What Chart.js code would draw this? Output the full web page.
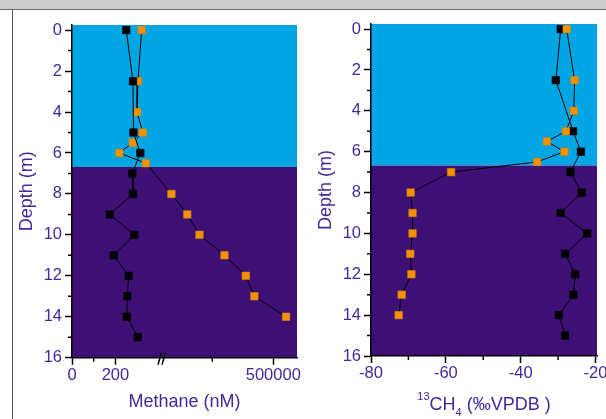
<!DOCTYPE html>
<html lang="en">
<head>
<meta charset="UTF-8">
<title>Methane depth profiles</title>
<script src="https://cdn.jsdelivr.net/npm/chart.js"></script>
<style>
  body { margin: 0; width: 606px; height: 419px; overflow: hidden; background: #fff; position: relative; }
  .topbar { position: absolute; left: 0; top: 0; width: 606px; height: 9px; background: #cccccc; border-bottom: 1.5px solid #6e6e6e; }
  .frame { position: absolute; left: 12px; top: 10px; width: 1px; height: 409px; background: #555; }
  canvas { position: absolute; top: 10px; }
</style>
</head>
<body>
<div class="topbar"></div>
<div class="frame"></div>
<canvas id="chartL" width="290" height="409" style="left:14px"></canvas>
<canvas id="chartR" width="320" height="409" style="left:304px"></canvas>
<script>
// ---- data ----
// left panel: methane concentration (nM)
const depthBlackL = [0, 2.5, 5, 6, 7, 8, 9, 10, 11, 12, 13, 14, 15];
const methaneBlack = [250, 281, 283, 315, 278, 281, 174, 287, 192, 261, 255, 253, 303];
const depthOrangeL = [0, 2.5, 4, 5, 5.5, 6, 6.5, 8, 9, 10, 11, 12, 13, 14];
const methaneOrange = [321, 304, 300, 326, 280, 218, 340, 333000, 359000, 379000, 420000, 455000, 469000, 521000];

// right panel: d13C of methane (permil VPDB)
const depthBlackR = [0, 2.5, 5, 6, 7, 8, 9, 10, 11, 12, 13, 14, 15];
const isoBlack = [-29.3, -30.6, -26.0, -23.9, -26.7, -23.7, -29.3, -22.2, -28.1, -25.4, -25.9, -29.8, -28.1];
const depthOrangeR = [0, 2.5, 4, 5, 5.5, 6, 6.5, 7, 8, 9, 10, 11, 12, 13, 14];
const isoOrange = [-27.7, -25.6, -25.8, -27.9, -33.0, -28.3, -35.6, -58.6, -69.4, -68.9, -68.9, -69.5, -69.2, -71.8, -72.6];

// ticks
const depthTicks = [0, 2, 4, 6, 8, 10, 12, 14, 16];
const depthMinor = [1, 3, 5, 7, 9, 11, 13, 15];
const methaneTicks = [0, 200, 500000];
const methaneMinor = [100, 400000];
const isoTicks = [-80, -60, -40, -20];
const isoMinor = [-70, -50, -30];

const layerDepth = 6.68; // where the light blue layer meets the purple one

const BLUE = '#00a6e4';
const PURPLE = '#3e1076';
const ORANGE = '#f39200';
const TXT = '#45289a';
const FAMILY = '"Liberation Sans", Arial, sans-serif';

Chart.defaults.font.family = FAMILY;

// broken methane axis: low values on a linear nM scale, high values squeezed in after the break
function brk(v) {
  return v < 1000 ? v : 646.5 + (v - 400000) * 0.002811;
}
const breakAt = 414.7;

function points(depths, vals, f) {
  return depths.map((d, i) => ({ x: f ? f(vals[i]) : vals[i], y: d }));
}

function series(data, fill, edge) {
  return {
    data: data,
    showLine: true,
    borderColor: '#000',
    borderWidth: 1,
    pointStyle: 'rect',
    pointRadius: 5.3,
    pointBackgroundColor: fill,
    pointBorderColor: edge,
    pointBorderWidth: 0.6
  };
}

// background layers, minor ticks, axis break etc
function makePanel(minorX, toX, extra) {
  return {
    id: 'panel',
    beforeDraw(chart) {
      const { ctx, chartArea: a, scales: { y } } = chart;
      const yi = y.getPixelForValue(layerDepth);
      ctx.save();
      ctx.fillStyle = BLUE;
      ctx.fillRect(a.left, a.top, a.right - a.left, yi - a.top);
      ctx.fillStyle = PURPLE;
      ctx.fillRect(a.left, yi, a.right - a.left, a.bottom - yi);
      ctx.restore();
    },
    afterDraw(chart) {
      const { ctx, chartArea: a, scales: { x, y } } = chart;
      ctx.save();
      ctx.strokeStyle = '#000';
      ctx.lineWidth = 1.5;
      ctx.beginPath();
      depthMinor.forEach(d => {
        const py = y.getPixelForValue(d);
        ctx.moveTo(a.left - 4, py);
        ctx.lineTo(a.left, py);
      });
      minorX.forEach(v => {
        const px = x.getPixelForValue(toX(v));
        ctx.moveTo(px, a.bottom);
        ctx.lineTo(px, a.bottom + 4);
      });
      ctx.stroke();
      ctx.restore();
      if (extra) extra(chart);
    }
  };
}

const axisCommon = {
  grid: { drawOnChartArea: false, tickLength: 7, tickWidth: 1.5, tickColor: '#000' },
  border: { color: '#000', width: 1.5 }
};

function depthAxis(width, titlePad) {
  return {
    type: 'linear',
    reverse: true,
    min: -0.25,
    max: 16,
    afterBuildTicks: s => { s.ticks = depthTicks.map(v => ({ value: v })); },
    afterFit: s => { s.width = width; },
    ticks: { color: TXT, font: { size: 16.5 }, padding: 3, callback: v => String(v) },
    title: { display: true, text: 'Depth (m)', color: TXT, font: { size: 18 }, padding: { top: titlePad, bottom: 0 } },
    ...axisCommon
  };
}

// ---- left: methane ----
new Chart(document.getElementById('chartL'), {
  type: 'scatter',
  data: {
    datasets: [
      series(points(depthBlackL, methaneBlack, brk), '#000', '#000'),
      series(points(depthOrangeL, methaneOrange, brk), ORANGE, '#d98300')
    ]
  },
  options: {
    responsive: false,
    animation: false,
    layout: { padding: { top: 15, right: 7, left: 0, bottom: 0 } },
    plugins: { legend: { display: false }, tooltip: { enabled: false } },
    scales: {
      x: {
        type: 'linear',
        min: 0,
        max: 1036.9,
        afterBuildTicks: s => { s.ticks = methaneTicks.map(v => ({ value: brk(v) })); },
        afterFit: s => { s.height = 61.3; },
        ticks: { color: TXT, font: { size: 16.5 }, padding: 1, maxRotation: 0, autoSkip: false,
                 callback: (v, i) => String(methaneTicks[i]) },
        title: { display: true, text: 'Methane (nM)', color: TXT, font: { size: 18 }, padding: { top: 0, bottom: 6.4 } },
        ...axisCommon
      },
      y: depthAxis(58, 2.4)
    }
  },
  plugins: [makePanel(methaneMinor, brk, chart => {
    // the // mark on the broken axis
    const { ctx, chartArea: a, scales: { x } } = chart;
    const bx = x.getPixelForValue(breakAt);
    const by = a.bottom;
    ctx.save();
    ctx.strokeStyle = '#000';
    ctx.lineWidth = 1.5;
    ctx.beginPath();
    ctx.moveTo(bx - 4, by + 7); ctx.lineTo(bx - 0.5, by - 5);
    ctx.moveTo(bx, by + 7); ctx.lineTo(bx + 3.5, by - 5);
    ctx.stroke();
    ctx.restore();
  })]
});

// ---- right: d13C ----
new Chart(document.getElementById('chartR'), {
  type: 'scatter',
  data: {
    datasets: [
      series(points(depthOrangeR, isoOrange), ORANGE, '#d98300'),
      series(points(depthBlackR, isoBlack), '#000', '#000')
    ]
  },
  options: {
    responsive: false,
    animation: false,
    layout: { padding: { top: 14, right: 27, left: 0, bottom: 0 } },
    plugins: { legend: { display: false }, tooltip: { enabled: false } },
    scales: {
      x: {
        type: 'linear',
        min: -80,
        max: -19.6,
        afterBuildTicks: s => { s.ticks = isoTicks.map(v => ({ value: v })); },
        afterFit: s => { s.height = 63; },
        ticks: { color: TXT, font: { size: 16.5 }, padding: 0.5, maxRotation: 0, autoSkip: false,
                 callback: v => String(v) },
        ...axisCommon
      },
      y: depthAxis(67, 11.4)
    }
  },
  plugins: [makePanel(isoMinor, v => v, chart => {
    // axis title with super/subscripts
    const { ctx, chartArea: a } = chart;
    const parts = [
      { t: '13', size: 11, dy: -10 },
      { t: 'CH', size: 18, dy: 0 },
      { t: '4', size: 11, dy: 6 },
      { t: ' (\u2030VPDB )', size: 18, dy: 0 }
    ];
    ctx.save();
    ctx.fillStyle = TXT;
    ctx.textBaseline = 'alphabetic';
    let total = 0;
    parts.forEach(p => { ctx.font = p.size + 'px ' + FAMILY; p.w = ctx.measureText(p.t).width; total += p.w; });
    let cx = (a.left + a.right) / 2 - total / 2;
    const base = chart.height - 9;
    parts.forEach(p => {
      ctx.font = p.size + 'px ' + FAMILY;
      ctx.fillText(p.t, cx, base + p.dy);
      cx += p.w;
    });
    ctx.restore();
  })]
});
</script>
</body>
</html>
